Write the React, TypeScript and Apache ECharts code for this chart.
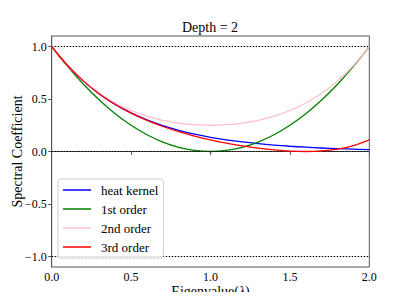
import React, { useEffect, useRef } from "react";
import * as echarts from "echarts";

const lambdas = [0, 0.1, 0.2, 0.3, 0.4, 0.5, 0.6, 0.7, 0.8, 0.9, 1.0, 1.1, 1.2, 1.3, 1.4, 1.5, 1.6, 1.7, 1.8, 1.9, 2.0];
const heatKernel = [1, 0.8187, 0.6703, 0.5488, 0.4493, 0.3679, 0.3012, 0.2466, 0.2019, 0.1653, 0.1353, 0.1108, 0.0907, 0.0743, 0.0608, 0.0498, 0.0408, 0.0334, 0.0273, 0.0224, 0.0183];
const firstOrder = [1, 0.81, 0.64, 0.49, 0.36, 0.25, 0.16, 0.09, 0.04, 0.01, 0, 0.01, 0.04, 0.09, 0.16, 0.25, 0.36, 0.49, 0.64, 0.81, 1];
const secondOrder = [1, 0.819, 0.6724, 0.555, 0.4624, 0.3906, 0.3364, 0.297, 0.2704, 0.255, 0.25, 0.255, 0.2704, 0.297, 0.3364, 0.3906, 0.4624, 0.555, 0.6724, 0.819, 1];
const thirdOrder = [1, 0.8187, 0.6702, 0.5483, 0.448, 0.365, 0.2959, 0.238, 0.1889, 0.1471, 0.1111, 0.0802, 0.0538, 0.032, 0.015, 0.0039, 0.0, 0.0055, 0.0231, 0.0567, 0.1111];
const refLines = [1, 0, -1];
const yTicks = [-1, -0.5, 0, 0.5, 1];
const seriesNames = ["heat kernel", "1st order", "2nd order", "3rd order"];
const seriesColors = ["#0000ff", "#008000", "#ffc0cb", "#ff0000"];

const FONT = "'Liberation Serif', 'DejaVu Serif', serif";

export default function App() {
  const ref = useRef<HTMLDivElement>(null);
  useEffect(() => {
    if (!ref.current) return;
    const chart = echarts.init(ref.current, undefined, { renderer: "svg" });
    const allData = [heatKernel, firstOrder, secondOrder, thirdOrder];
    const series: any[] = allData.map((vals, i) => ({
      name: seriesNames[i],
      type: "line",
      data: lambdas.map((x, j) => [x, vals[j]]),
      symbol: "none",
      smooth: 0.4,
      lineStyle: { color: seriesColors[i], width: 1.3 },
      itemStyle: { color: seriesColors[i] },
      z: 3 + i,
    }));
    series.push({
      type: "line",
      data: [],
      silent: true,
      z: 2,
      markLine: {
        silent: true,
        symbol: "none",
        label: { show: false },
        lineStyle: { color: "#000", type: [1.5, 1.5], width: 1 },
        data: refLines.map((v) => ({ yAxis: v })),
      },
    });
    chart.setOption({
      animation: false,
      title: {
        text: "Depth = 2",
        left: 182,
        top: 20,
        padding: 0,
        textStyle: { fontFamily: FONT, fontSize: 14, fontWeight: "normal", color: "#000" },
      },
      grid: {
        left: 51.7,
        right: 41.7,
        top: 36,
        bottom: 33,
        containLabel: false,
        outerBoundsMode: "none",
        show: true,
        borderColor: "#555",
        borderWidth: 1,
        backgroundColor: "#fff",
      },
      legend: {
        orient: "vertical",
        left: 58,
        top: 179,
        padding: [4, 5, 4, 5],
        icon: "rect",
        itemWidth: 28,
        itemHeight: 1.5,
        itemGap: 5,
        backgroundColor: "rgba(255,255,255,0.8)",
        borderColor: "#cccccc",
        borderWidth: 1,
        borderRadius: 3,
        data: seriesNames,
        textStyle: { fontFamily: FONT, fontSize: 13, lineHeight: 14, color: "#000", padding: [0, 0, 0, 5] },
        z: 10,
      },
      xAxis: {
        type: "value",
        min: 0,
        max: 2,
        interval: 0.5,
        name: "Eigenvalue({i|λ})",
        nameLocation: "middle",
        nameGap: 17,
        nameMoveOverlap: false,
        nameTextStyle: {
          fontFamily: FONT,
          fontSize: 14,
          color: "#000",
          lineHeight: 14,
          rich: { i: { fontFamily: FONT, fontSize: 14, fontStyle: "italic", color: "#000", lineHeight: 14 } },
        },
        axisLine: { show: true, lineStyle: { color: "#555", width: 1 } },
        axisTick: { show: true, inside: false, length: 3.5, lineStyle: { color: "#555" } },
        axisLabel: {
          margin: 4,
          fontFamily: FONT,
          fontSize: 12,
          color: "#000",
          formatter: (v: number) => v.toFixed(1),
        },
        splitLine: { show: false },
      },
      yAxis: {
        type: "value",
        min: -1.1,
        max: 1.1,
        name: "Spectral Coefficient",
        nameLocation: "middle",
        nameGap: 27,
        nameMoveOverlap: false,
        nameTextStyle: { fontFamily: FONT, fontSize: 14, color: "#000", lineHeight: 15 },
        axisLine: { show: true, lineStyle: { color: "#555", width: 1 } },
        axisTick: { show: true, inside: false, length: 3.5, lineStyle: { color: "#555" }, customValues: yTicks },
        axisLabel: {
          margin: 5,
          fontFamily: FONT,
          fontSize: 12,
          color: "#000",
          customValues: yTicks,
          formatter: (v: number) => v.toFixed(1).replace("-", "\u2212"),
        },
        splitLine: { show: false },
      },
      series,
    });
    return () => chart.dispose();
  }, []);
  return <div ref={ref} style={{ width: 411, height: 300, margin: -8 }} />;
}
